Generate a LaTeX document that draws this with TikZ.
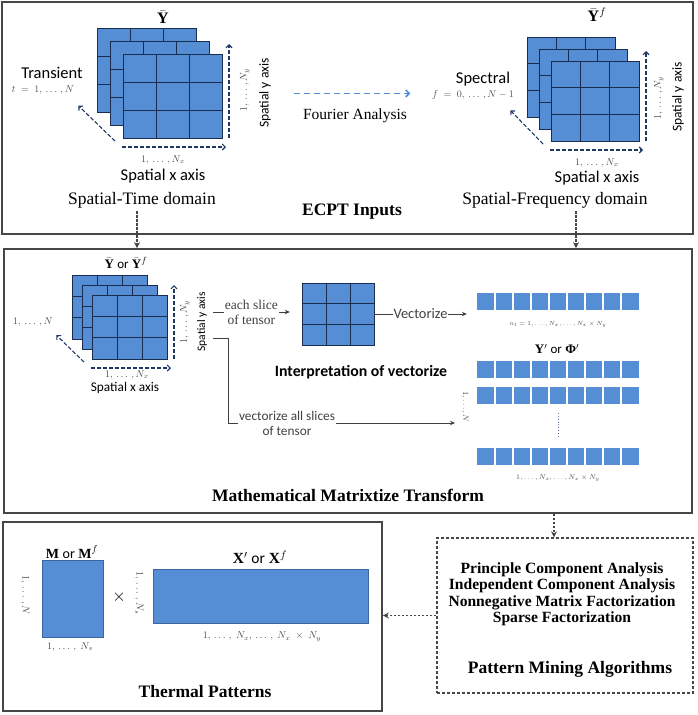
\documentclass[tikz,border=0pt]{standalone}
\usepackage{fontspec}
\setmainfont{Liberation Serif}
\newfontfamily\calib{Carlito}
\usetikzlibrary{arrows.meta,positioning}

\definecolor{cellblue}{RGB}{85,142,213}
\definecolor{gridblue}{RGB}{25,45,80}
\definecolor{axisblue}{RGB}{31,56,100}
\definecolor{framegray}{RGB}{70,70,70}
\definecolor{edgeblue}{RGB}{60,100,160}

\newcommand{\slice}[4]{%
  \fill[cellblue] ({#1},{#2}) rectangle ++(#3,#4);
  \foreach \j in {1,2}{
    \draw[gridline] ({#1+\j*#3/3},{#2}) -- ++(0,#4);
    \draw[gridline] ({#1},{#2+\j*#4/3}) -- ++(#3,0);}
  \draw[gridline] ({#1},{#2}) rectangle ++(#3,#4);}
\newcommand{\tensorstack}[5]{%
  \foreach \k in {0,1,2}{\slice{#1+\k*#5}{#2+\k*#5}{#3}{#4}}
  \pgfmathsetmacro{\fl}{#1+2*#5}\pgfmathsetmacro{\ft}{#2+2*#5}
  \pgfmathsetmacro{\fr}{\fl+#3}\pgfmathsetmacro{\fb}{\ft+#4}
  \draw[axisarrow] ({\fr+7},{\fb}) -- ({\fr+7},{\ft-10});
  \draw[axisarrow] ({\fl-1},{\fb+9}) -- ({\fr+4},{\fb+9});
  \draw[axisarrow] ({\fl-8},{\fb+3}) -- ++({-0.37*#3},{-0.42*#4});}
\newcommand{\idxdots}{,\,\ldots\,,}

\begin{document}
\begin{tikzpicture}[x=1pt,y=-1pt,
    frame/.style={draw=framegray, line width=1.6pt, inner sep=0},
    dashframe/.style={draw=framegray, line width=1.3pt, dash pattern=on 3pt off 2pt, inner sep=0},
    flowarrow/.style={framegray, line width=1.3pt, dash pattern=on 2.5pt off 1.5pt, -{Stealth[length=6pt,width=6pt]}},
    axisarrow/.style={axisblue, line width=1.1pt, dash pattern=on 4pt off 2pt, -{Straight Barb[length=3pt,width=6pt]}},
    fourierarrow/.style={cellblue, line width=1.7pt, dash pattern=on 6pt off 4pt, -{Straight Barb[length=3.5pt,width=7pt]}},
    plainarrow/.style={black!75, line width=0.9pt, -{Stealth[length=5pt,width=4.5pt]}},
    gridline/.style={gridblue, line width=0.8pt},
    cellrow/.style={fill=cellblue, minimum width=162, minimum height=17, inner sep=0,
      path picture={\foreach \k in {1,...,8}{
        \draw[white, line width=1.1pt] ([xshift=\k*18pt]path picture bounding box.north west)
          -- ([xshift=\k*18pt]path picture bounding box.south west);}}},
    matrixbox/.style={fill=cellblue, draw=edgeblue, line width=1pt, inner sep=0},
    title/.style={font=\bfseries\fontsize{17.5}{20}\selectfont},
    domlabel/.style={font=\fontsize{17.5}{20}\selectfont},
    serif/.style={font=\fontsize{13.5}{15}\selectfont, align=center},
    sans/.style={font=\calib\fontsize{16.5}{18}\selectfont},
    smallsans/.style={font=\calib\fontsize{13.3}{15}\selectfont, align=center},
    idx/.style={font=\fontsize{10}{11}\selectfont, text=black!70, inner sep=1pt},
    tinyidx/.style={font=\fontsize{6.2}{7}\selectfont, text=black!70, inner sep=1pt},
    symb/.style={font=\fontsize{16}{18}\selectfont}]
\useasboundingbox (0,0) rectangle (697,715);

\node[frame, minimum width=691, minimum height=232] (inbox) at (347.5,118) {};
\node[frame, minimum width=688, minimum height=264] (mtbox) at (348,381) {};
\node[frame, minimum width=379, minimum height=189] (tpbox) at (192.5,616.5) {};
\node[dashframe, minimum width=256, minimum height=155] (pmbox) at (565,615.5) {};

% ECPT inputs
\tensorstack{97}{28}{99}{84}{13}
\node[symb] (ybar) at (163,17) {$\bar{\mathbf{Y}}$};
\node[sans] (trans) at (52,73) {Transient};
\node[idx] (tidx) at (43,90) {$t \;=\; 1\idxdots N$};
\node[idx, rotate=90] (yidxa) at (245,90) {$1\idxdots N_y$};
\node[sans, rotate=90, font=\calib\fontsize{13.5}{15}\selectfont] (yaxa) at (265,93) {Spatial y axis};
\node[idx] (xidxa) at (163,160) {$1\idxdots N_x$};
\node[sans] (xaxa) at (163,176) {Spatial x axis};
\node[domlabel] (stdom) at (142,200) {Spatial-Time domain};

\node[serif, font=\fontsize{15.5}{17}\selectfont] (fourier) at (355,116) {Fourier Analysis};
\draw[fourierarrow] ([xshift=-6pt,yshift=12pt]fourier.north west) -- ([yshift=12pt]fourier.north east);

\tensorstack{527}{37}{88}{80}{12}
\node[symb] (ybarf) at (597,15) {$\bar{\mathbf{Y}}^{f}$};
\node[sans] (spec) at (483,79) {Spectral};
\node[idx] (fidx) at (473,95) {$f \;=\; 0\idxdots N-1$};
\node[idx, rotate=90] (yidxb) at (659,98) {$1\idxdots N_y$};
\node[sans, rotate=90, font=\calib\fontsize{13.5}{15}\selectfont] (yaxb) at (678,97) {Spatial y axis};
\node[idx] (xidxb) at (597,163) {$1\idxdots N_x$};
\node[sans] (xaxb) at (597,178) {Spatial x axis};
\node[domlabel] (sfdom) at (555,200) {Spatial-Frequency domain};
\node[title] (intitle) at (352,212) {ECPT Inputs};

% matrixtize
\tensorstack{72}{275}{75}{64}{10}
\node[symb, font=\fontsize{13}{15}\selectfont] (ybarm) at (126,263) {$\bar{\mathbf{Y}}$ {\calib or} $\bar{\mathbf{Y}}^{f}$};
\node[idx, rotate=90] (yidxm) at (185,322) {$1\idxdots N_y$};
\node[smallsans, rotate=90, font=\calib\fontsize{11.5}{13}\selectfont] (yaxm) at (202,322) {Spatial y axis};
\node[idx] (xidxm) at (127,375) {$1\idxdots N_x$};
\node[smallsans] (xaxm) at (125,388) {Spatial x axis};
\node[idx] (tidxm) at (33,322) {$1\idxdots N$};

\node[minimum width=72, minimum height=62, inner sep=0] (onegrid) at (338,314) {};
\slice{302}{283}{72}{62}
\node[sans, font=\calib\bfseries\fontsize{15.8}{18}\selectfont] (interp) at (361,372) {Interpretation of vectorize};

\node[cellrow] (veca) at (558,301.5) {};
\node[tinyidx] (nidx) at (558,324) {$n_t = 1,\ldots,N_x,\ldots,N_x \times N_y$};
\node[symb, font=\fontsize{13}{15}\selectfont] (yphi) at (557,349) {$\mathbf{Y}'$ {\calib or} \textbf{Φ}$'$};
\node[cellrow] (vecb) at (558,369) {};
\node[cellrow] (vecc) at (558,395.5) {};
\node[cellrow] (vecd) at (558,456.5) {};
\draw[axisblue!70, dotted, line width=0.8pt] ([yshift=-9pt]vecc.south) -- ([yshift=10pt]vecd.north);
\node[tinyidx, font=\fontsize{6.6}{8}\selectfont] (colidx) at (558,478) {$1,\ldots,N_x,\ldots,N_x \times N_y$};
\node[idx, rotate=-90, font=\fontsize{8}{9}\selectfont] (rowidx) at (465,407) {$1,\ldots,N$};

\coordinate (splita) at (213,312);
\coordinate (splitb) at (213,338);
\coordinate (allend) at (455,423);
\draw[plainarrow] (splita) -- node[serif, fill=white, inner sep=1pt] (eachlab) {each slice\\of tensor} ([xshift=-12pt]splita -| onegrid.west);
\draw[plainarrow] (onegrid.east) -- node[sans, font=\calib\fontsize{14.4}{16}\selectfont, fill=white, inner sep=1pt] (veclab) {Vectorize} ([xshift=-10pt]onegrid.east -| veca.west);
\draw[plainarrow] (splitb) -| ++(15,85) -- node[smallsans, pos=0.26, fill=white, inner sep=1pt] (alllab) {vectorize all slices\\of tensor} (allend);

\node[title] (mttitle) at (348,495) {Mathematical Matrixtize Transform};

% thermal patterns
\node[matrixbox, minimum width=61, minimum height=77] (mmat) at (72.5,598.5) {};
\node[matrixbox, minimum width=215, minimum height=54] (xmat) at (260.5,596) {};
\node[symb, font=\fontsize{14}{16}\selectfont] (mlab) at (72,552) {$\mathbf{M}$ {\calib or} $\mathbf{M}^{f}$};
\node[symb, font=\fontsize{15.5}{17}\selectfont] (xlab) at (260,557) {$\mathbf{X}'$ {\calib or} $\mathbf{X}^{f}$};
\node[idx, rotate=-90] (midx) at (25,595) {$1\idxdots N$};
\node[idx] (msidx) at (70,647) {$1\idxdots\; N_s$};
\node[symb] (times) at (119,597) {$\times$};
\node[idx, rotate=-90] (xsidx) at (139,593) {$1\idxdots N_s$};
\node[idx] (xcolidx) at (262,637) {$1\idxdots\; N_x\idxdots\; N_x \;\times\; N_y$};
\node[title] (tptitle) at (205,692) {Thermal Patterns};

% pattern mining
\node[title, font=\bfseries\fontsize{15.6}{16.5}\selectfont, align=center] (algos) at (562,594)
  {Principle Component Analysis\\Independent Component Analysis\\Nonnegative Matrix Factorization\\Sparse Factorization};
\node[title] (pmtitle) at (570,669) {Pattern Mining Algorithms};

\draw[flowarrow] ([xshift=-5pt]stdom.south) -- ([xshift=-5pt]stdom.south |- mtbox.north);
\draw[flowarrow] ([xshift=21pt]sfdom.south) -- ([xshift=21pt]sfdom.south |- mtbox.north);
\draw[flowarrow] ([xshift=-11pt]pmbox.north |- mtbox.south) -- ([xshift=-11pt]pmbox.north);
\draw[flowarrow] (pmbox.west) -- (pmbox.west -| tpbox.east);
\end{tikzpicture}
\end{document}
